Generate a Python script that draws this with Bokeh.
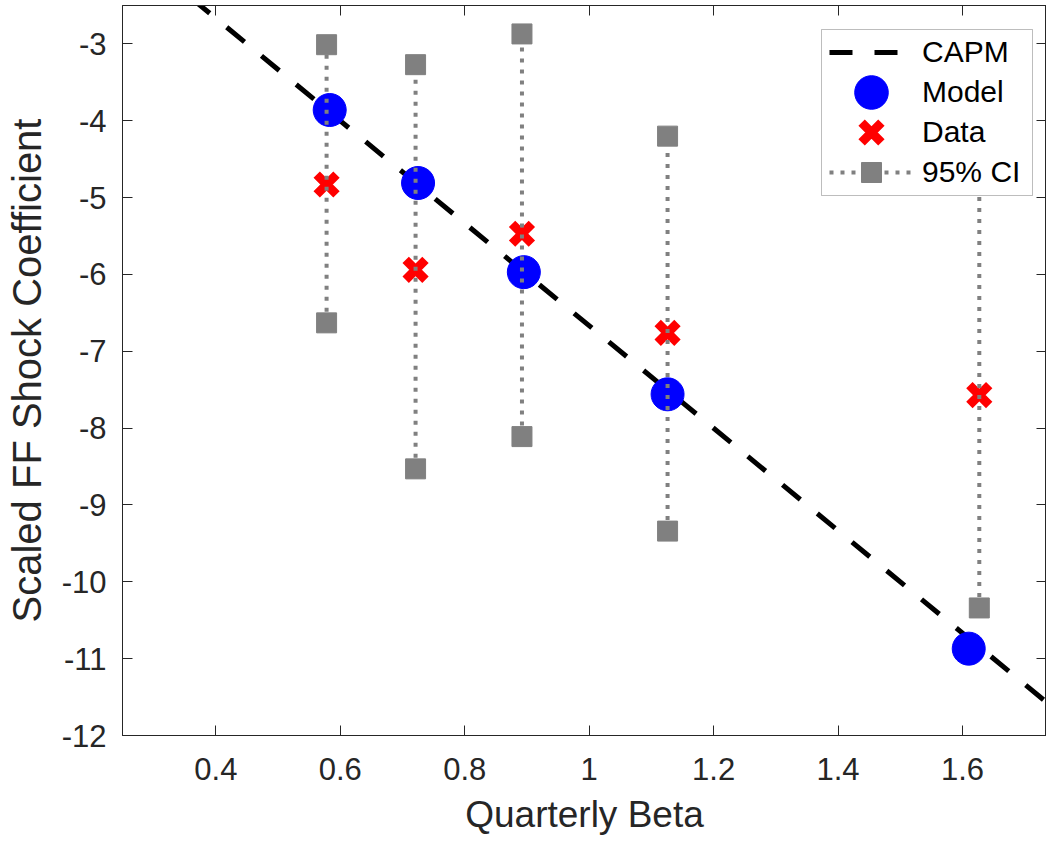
from bokeh.plotting import figure
from bokeh.models import (Range1d, FixedTicker, LinearAxis, Legend, LegendItem,
                          BoxAnnotation, CustomLabelingPolicy)
from bokeh.embed import file_html
from bokeh.resources import INLINE

# ---- data ----
beta_data = [0.578, 0.721, 0.892, 1.126, 1.627]
coef_data = [-4.83, -5.94, -5.47, -6.76, -7.57]
ci_upper = [-3.01, -3.27, -2.87, -4.20, -4.80]
ci_lower = [-6.63, -8.53, -8.11, -9.34, -10.34]
beta_model = [0.583, 0.725, 0.895, 1.126, 1.610]
coef_model = [-3.86, -4.81, -5.97, -7.56, -10.87]
capm_price = -6.667
capm_beta = [0.25, 1.75]
x_ticks = [0.4, 0.6, 0.8, 1.0, 1.2, 1.4, 1.6]
x_tick_labels = ["0.4", "0.6", "0.8", "1", "1.2", "1.4", "1.6"]
y_ticks = [-12, -11, -10, -9, -8, -7, -6, -5, -4, -3]
y_tick_labels = ["-12", "-11", "-10", "-9", "-8", "-7", "-6", "-5", "-4", "-3"]

FONT = "Liberation Sans"
TXT = "#262626"

p = figure(width=1046, height=840,
           x_range=Range1d(0.25, 1.735), y_range=Range1d(-12, -2.5),
           output_backend="svg", toolbar_location=None,
           min_border_left=122, min_border_right=0, min_border_top=5, min_border_bottom=105,
           x_axis_label="Quarterly Beta", y_axis_label="Scaled FF Shock Coefficient")
p.grid.visible = False
p.outline_line_color = TXT
p.outline_line_width = 1
p.background_fill_color = "white"
p.border_fill_color = "white"

x_over = {t: l for t, l in zip(x_ticks, x_tick_labels)}
y_over = {t: l for t, l in zip(y_ticks, y_tick_labels)}

for ax, ticks, over in ((p.xaxis[0], x_ticks, x_over), (p.yaxis[0], y_ticks, y_over)):
    ax.ticker = FixedTicker(ticks=ticks)
    ax.major_label_overrides = over
    ax.axis_line_color = TXT
    ax.major_tick_line_color = TXT
    ax.major_tick_in = 10
    ax.major_tick_out = 0
    ax.minor_tick_line_color = None
    ax.major_label_text_font = FONT
    ax.major_label_text_font_size = "31px"
    ax.major_label_text_color = TXT
    ax.major_label_standoff = 16
    ax.axis_label_text_font = FONT
    ax.axis_label_text_font_style = "normal"
    ax.axis_label_text_color = TXT

p.xaxis[0].major_label_standoff = 22
p.xaxis[0].axis_label_text_font_size = "37px"
p.xaxis[0].axis_label_standoff = 11
p.yaxis[0].axis_label_text_font_size = "40px"
p.yaxis[0].axis_label_standoff = 10

no_labels = CustomLabelingPolicy(code="""
for (const i of Array.from(indices)) { indices.unset(i) }
return indices
""")
for loc, ticks in (("above", x_ticks), ("right", y_ticks)):
    ax = LinearAxis(ticker=FixedTicker(ticks=ticks), major_label_text_font_size="0px",
                    major_label_policy=no_labels,
                    major_label_standoff=0, major_tick_in=10, major_tick_out=0,
                    minor_tick_line_color=None, axis_line_color=TXT, major_tick_line_color=TXT)
    p.add_layout(ax, loc)

capm_coef = [capm_price * b for b in capm_beta]
r_capm = p.line(capm_beta, capm_coef, line_color="black", line_width=5, line_dash="23 22")
r_model = p.scatter(beta_model, coef_model, marker="circle", size=33,
                    fill_color="blue", line_color="blue")
r_data = p.scatter(beta_data, coef_data, marker="x", size=28,
                   line_color="red", line_width=9)
r_ci = p.segment(x0=beta_data, y0=ci_lower, x1=beta_data, y1=ci_upper,
                 line_color="gray", line_width=4, line_dash="4 7")
r_sq = p.scatter(beta_data + beta_data, ci_lower + ci_upper, marker="square", size=20,
                 fill_color="gray", line_color="gray")

# legend frame
box = BoxAnnotation(left=699, right=910, bottom=540, top=706,
                    left_units="screen", right_units="screen",
                    bottom_units="screen", top_units="screen",
                    fill_color="white", fill_alpha=1.0, line_color=TXT, line_width=1)
p.add_layout(box)

# one legend per row so every row can have its own glyph box
rows = [("CAPM", [r_capm], 40, 663),
        ("Model", [r_model], 84, 601),
        ("Data", [r_data], 70, 568),
        ("95% CI", [r_ci, r_sq], 50, 538)]
for label, rends, gh, vy in rows:
    lg = Legend(items=[LegendItem(label=label, renderers=rends)],
                location=(707, vy), glyph_width=84, glyph_height=gh, label_height=gh,
                spacing=0, padding=0, margin=0, label_standoff=9,
                label_text_font=FONT, label_text_font_size="30px", label_text_color="black",
                background_fill_alpha=0, border_line_alpha=0)
    p.add_layout(lg)

open("out.html", "w").write(file_html(p, INLINE))
